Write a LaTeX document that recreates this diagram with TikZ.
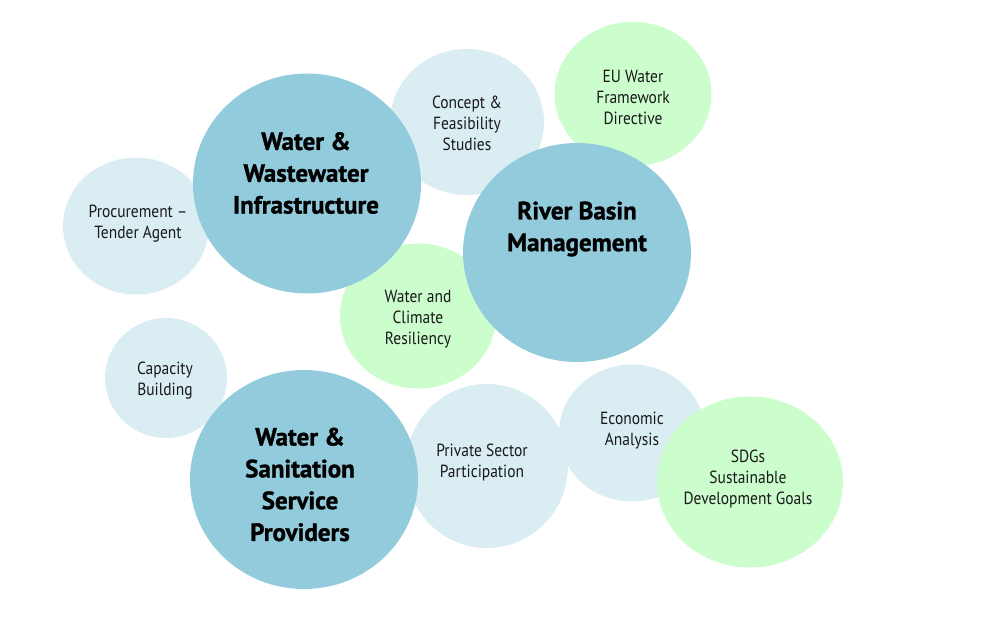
\documentclass[tikz,border=0pt]{standalone}
\usepackage{fontspec}
\setmainfont{PT Sans}[FakeStretch=0.88, BoldFeatures={FakeStretch=1.0, FakeBold=1.2}]
\usetikzlibrary{shapes.geometric}
\definecolor{bigblue}{HTML}{92CBDC}
\definecolor{lightblue}{HTML}{DAEDF3}
\definecolor{lightgreen}{HTML}{CCFDCC}
\tikzset{
  bubble/.style={ellipse, inner sep=0pt, draw=none},
  big/.style={bubble, fill=bigblue},
  pale/.style={bubble, fill=lightblue},
  green/.style={bubble, fill=lightgreen},
  smalltxt/.style={align=center, inner sep=0pt, text=black!90, font=\fontsize{17.6}{21}\selectfont},
  bigtxt/.style={align=center, inner sep=0pt, text=black, font=\fontsize{25}{31.8}\selectfont\bfseries},
}
\begin{document}
\begin{tikzpicture}[x=1pt,y=-1pt]
\useasboundingbox (0,0) rectangle (985,638);
% bubbles (back to front)
\node[pale, minimum width=154pt, minimum height=146pt] (cfs) at (467,122) {};
\node[green, minimum width=157pt, minimum height=144pt] (eu) at (633,94) {};
\node[pale, minimum width=146pt, minimum height=137pt] (proc) at (136,226) {};
\node[green, minimum width=156pt, minimum height=145pt] (wcr) at (418,316) {};
\node[pale, minimum width=122pt, minimum height=120pt] (cap) at (166,378) {};
\node[pale, minimum width=162pt, minimum height=164pt] (psp) at (487,466) {};
\node[pale, minimum width=146pt, minimum height=137pt] (eco) at (632,433) {};
\node[green, minimum width=186pt, minimum height=171pt] (sdg) at (750,482) {};
\node[big, minimum width=228pt, minimum height=220pt] (wwi) at (307,183.5) {};
\node[big, minimum width=228pt, minimum height=219pt] (rbm) at (577,252.5) {};
\node[big, minimum width=228pt, minimum height=219pt] (wssp) at (304,479.5) {};
% texts
\node[smalltxt] (cfs-t) at (467,123.6) {Concept \&\\Feasibility\\Studies};
\node[smalltxt] (eu-t) at (633,97) {EU Water\\Framework\\Directive};
\node[smalltxt] (proc-t) at (138,224) {Procurement –\\Tender Agent};
\node[smalltxt] (wcr-t) at (418,319.6) {Water and\\Climate\\Resiliency};
\node[smalltxt] (cap-t) at (165,381) {Capacity\\Building};
\node[smalltxt] (psp-t) at (482,462) {Private Sector\\Participation};
\node[smalltxt] (eco-t) at (632,431) {Economic\\Analysis};
\node[smalltxt] (sdg-t) at (748,479) {SDGs\\Sustainable\\Development Goals};
\node[bigtxt] (wwi-t) at (306,173) {Water \&\\Wastewater\\Infrastructure};
\node[bigtxt] (rbm-t) at (577,229) {River Basin\\Management};
\node[bigtxt] (wssp-t) at (300,484.5) {Water \&\\Sanitation\\Service\\Providers};
\end{tikzpicture}
\end{document}
